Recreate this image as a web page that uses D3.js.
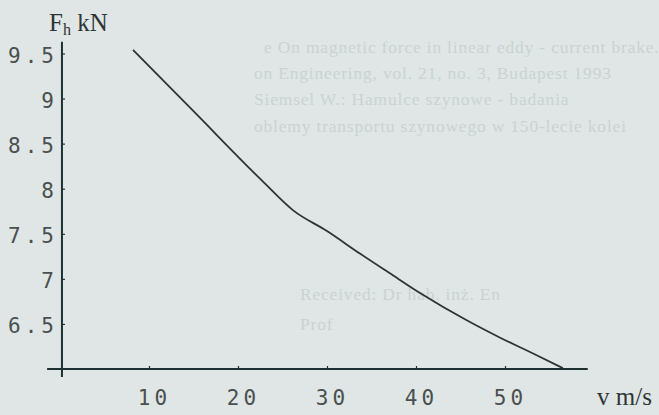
<!DOCTYPE html>
<html>
<head>
<meta charset="utf-8">
<script src="https://cdn.jsdelivr.net/npm/d3@7"></script>
<style>
  html, body { margin: 0; padding: 0; background: #dfe6e5; }
  svg { display: block; }
</style>
</head>
<body>
<svg id="chart" width="659" height="415"></svg>
<script>
// ---- data ----
const speed = [8.2, 15, 22.7, 26.2, 30, 33.7, 37.4, 40.5, 45.7, 49.4, 53.1, 56.5];            // v, m/s
const force = [9.54, 8.86, 8.09, 7.76, 7.53, 7.28, 7.04, 6.84, 6.54, 6.35, 6.175, 6.01];       // Fh, kN
const xTicks = [10, 20, 30, 40, 50];
const yTicks = [6.5, 7, 7.5, 8, 8.5, 9, 9.5];
const xTickLabels = ["10", "20", "30", "40", "50"];
const yTickLabels = ["6.5", "7", "7.5", "8", "8.5", "9", "9.5"];
// faint show-through text from the scanned page
const ghostLines = [
  "e On magnetic force in linear eddy - current brake.",
  "on Engineering, vol. 21, no. 3, Budapest 1993",
  "Siemsel W.: Hamulce szynowe - badania",
  "oblemy transportu szynowego w 150-lecie kolei",
  "Received: Dr hab. inż. En",
  "Prof"
];

const svg = d3.select("#chart");
const x = d3.scaleLinear().domain([0, 60]).range([60, 594]);
const y = d3.scaleLinear().domain([6, 9.5]).range([369, 53.5]);

// ghost text
const ghost = svg.append("g")
  .attr("font-family", "'Liberation Serif', 'Times New Roman', serif")
  .attr("font-size", 17.5)
  .attr("fill", "#cbd3d2");
const ghostPos = [[264, 53], [254, 79], [254, 105], [254, 132], [300, 300], [300, 330]];
ghost.selectAll("text").data(ghostLines).join("text")
  .attr("x", (d, i) => ghostPos[i][0])
  .attr("y", (d, i) => ghostPos[i][1])
  .attr("letter-spacing", 0.8)
  .text(d => d);

const axisColor = "#1f3133";
const labelColor = "#4a4f4f";
const LS = 4; // letter spacing of the monospaced tick labels

// axis lines
svg.append("line")
  .attr("x1", x(-1.45)).attr("x2", x(59.3))
  .attr("y1", y(6)).attr("y2", y(6))
  .attr("stroke", axisColor).attr("stroke-width", 2);
svg.append("line")
  .attr("x1", x(0.22)).attr("x2", x(0.22))
  .attr("y1", y(9.63)).attr("y2", y(5.91))
  .attr("stroke", axisColor).attr("stroke-width", 2);

// x axis ticks + labels
const gx = svg.append("g")
  .attr("transform", `translate(0,${y(6)})`)
  .call(d3.axisBottom(x).tickValues(xTicks)
    .tickFormat((d, i) => xTickLabels[i])
    .tickSize(-3).tickPadding(21));
gx.select(".domain").remove();
gx.selectAll("line").attr("stroke", axisColor).attr("stroke-width", 1.2);
gx.selectAll("text")
  .attr("font-family", "'DejaVu Sans Mono', monospace")
  .attr("font-size", 21).attr("fill", labelColor)
  .attr("letter-spacing", LS)
  .attr("dx", 3 + LS / 2);

// y axis ticks + labels
const gy = svg.append("g")
  .attr("transform", `translate(${x(0.22)},0)`)
  .call(d3.axisLeft(y).tickValues(yTicks)
    .tickFormat((d, i) => yTickLabels[i])
    .tickSize(-3).tickPadding(8));
gy.select(".domain").remove();
gy.selectAll("line").attr("stroke", axisColor).attr("stroke-width", 1.2);
gy.selectAll("text")
  .attr("font-family", "'DejaVu Sans Mono', monospace")
  .attr("font-size", 21).attr("fill", labelColor)
  .attr("letter-spacing", LS)
  .attr("dx", LS)
  .attr("dy", "0.43em");

// curve
const pts = speed.map((v, i) => [v, force[i]]);
svg.append("path")
  .datum(pts)
  .attr("fill", "none")
  .attr("stroke", "#2e3434")
  .attr("stroke-width", 1.8)
  .attr("stroke-linejoin", "round")
  .attr("d", d3.line().x(d => x(d[0])).y(d => y(d[1])).curve(d3.curveMonotoneX));

// axis titles
const yt = svg.append("text")
  .attr("x", 49).attr("y", 31)
  .attr("font-family", "'Liberation Serif', 'Times New Roman', serif")
  .attr("font-size", 25).attr("fill", "#2f3535");
yt.append("tspan").text("F");
yt.append("tspan").attr("font-size", 16).attr("dy", 4).text("h");
yt.append("tspan").attr("dy", -4).text(" kN");

svg.append("text")
  .attr("x", 597).attr("y", 405)
  .attr("font-family", "'Liberation Serif', 'Times New Roman', serif")
  .attr("font-size", 25).attr("fill", "#2f3535")
  .text("v m/s");
</script>
</body>
</html>
